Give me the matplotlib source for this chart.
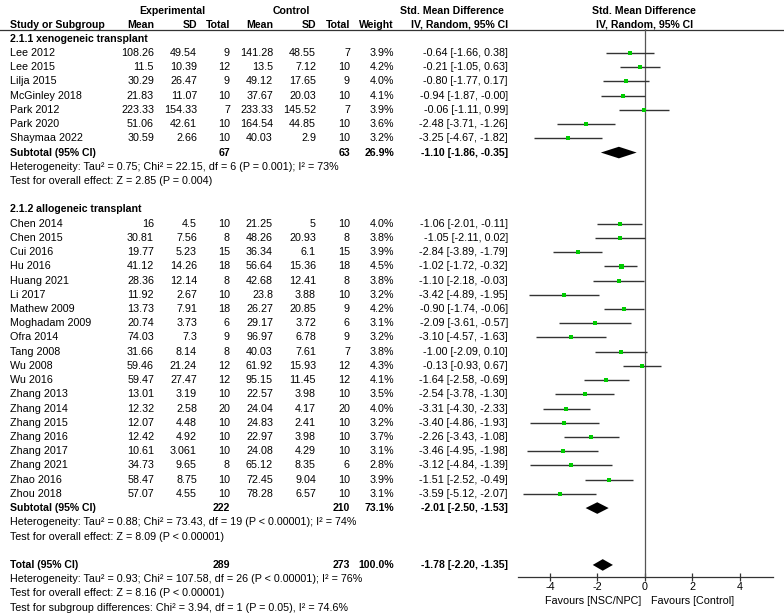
import matplotlib
matplotlib.use("Agg")
import matplotlib.pyplot as plt
from matplotlib.patches import Polygon

plt.rcParams['font.family'] = ['Liberation Sans', 'DejaVu Sans']

# ---------------- data ----------------
g1_name = "2.1.1 xenogeneic transplant"
g1_studies = ["Lee 2012", "Lee 2015", "Lilja 2015", "McGinley 2018", "Park 2012", "Park 2020", "Shaymaa 2022"]
g1_exp_mean = [108.26, 11.5, 30.29, 21.83, 223.33, 51.06, 30.59]
g1_exp_sd = [49.54, 10.39, 26.47, 11.07, 154.33, 42.61, 2.66]
g1_exp_n = [9, 12, 9, 10, 7, 10, 10]
g1_ctl_mean = [141.28, 13.5, 49.12, 37.67, 233.33, 164.54, 40.03]
g1_ctl_sd = [48.55, 7.12, 17.65, 20.03, 145.52, 44.85, 2.9]
g1_ctl_n = [7, 10, 9, 10, 7, 10, 10]
g1_weight = [3.9, 4.2, 4.0, 4.1, 3.9, 3.6, 3.2]
g1_smd = [-0.64, -0.21, -0.80, -0.94, -0.06, -2.48, -3.25]
g1_lo = [-1.66, -1.05, -1.77, -1.87, -1.11, -3.71, -4.67]
g1_hi = [0.38, 0.63, 0.17, -0.00, 0.99, -1.26, -1.82]
g1_sub = dict(n_exp=67, n_ctl=63, weight=26.9, smd=-1.10, lo=-1.86, hi=-0.35)
g1_het = "Heterogeneity: Tau² = 0.75; Chi² = 22.15, df = 6 (P = 0.001); I² = 73%"
g1_test = "Test for overall effect: Z = 2.85 (P = 0.004)"

g2_name = "2.1.2 allogeneic transplant"
g2_studies = ["Chen 2014", "Chen 2015", "Cui 2016", "Hu 2016", "Huang 2021", "Li 2017", "Mathew 2009",
              "Moghadam 2009", "Ofra 2014", "Tang 2008", "Wu 2008", "Wu 2016", "Zhang 2013", "Zhang 2014",
              "Zhang 2015", "Zhang 2016", "Zhang 2017", "Zhang 2021", "Zhao 2016", "Zhou 2018"]
g2_exp_mean = [16, 30.81, 19.77, 41.12, 28.36, 11.92, 13.73, 20.74, 74.03, 31.66, 59.46, 59.47, 13.01, 12.32,
               12.07, 12.42, 10.61, 34.73, 58.47, 57.07]
g2_exp_sd = [4.5, 7.56, 5.23, 14.26, 12.14, 2.67, 7.91, 3.73, 7.3, 8.14, 21.24, 27.47, 3.19, 2.58,
             4.48, 4.92, 3.061, 9.65, 8.75, 4.55]
g2_exp_n = [10, 8, 15, 18, 8, 10, 18, 6, 9, 8, 12, 12, 10, 20, 10, 10, 10, 8, 10, 10]
g2_ctl_mean = [21.25, 48.26, 36.34, 56.64, 42.68, 23.8, 26.27, 29.17, 96.97, 40.03, 61.92, 95.15, 22.57, 24.04,
               24.83, 22.97, 24.08, 65.12, 72.45, 78.28]
g2_ctl_sd = [5, 20.93, 6.1, 15.36, 12.41, 3.88, 20.85, 3.72, 6.78, 7.61, 15.93, 11.45, 3.98, 4.17,
             2.41, 3.98, 4.29, 8.35, 9.04, 6.57]
g2_ctl_n = [10, 8, 15, 18, 8, 10, 9, 6, 9, 7, 12, 12, 10, 20, 10, 10, 10, 6, 10, 10]
g2_weight = [4.0, 3.8, 3.9, 4.5, 3.8, 3.2, 4.2, 3.1, 3.2, 3.8, 4.3, 4.1, 3.5, 4.0, 3.2, 3.7, 3.1, 2.8, 3.9, 3.1]
g2_smd = [-1.06, -1.05, -2.84, -1.02, -1.10, -3.42, -0.90, -2.09, -3.10, -1.00, -0.13, -1.64, -2.54, -3.31,
          -3.40, -2.26, -3.46, -3.12, -1.51, -3.59]
g2_lo = [-2.01, -2.11, -3.89, -1.72, -2.18, -4.89, -1.74, -3.61, -4.57, -2.09, -0.93, -2.58, -3.78, -4.30,
         -4.86, -3.43, -4.95, -4.84, -2.52, -5.12]
g2_hi = [-0.11, 0.02, -1.79, -0.32, -0.03, -1.95, -0.06, -0.57, -1.63, 0.10, 0.67, -0.69, -1.30, -2.33,
         -1.93, -1.08, -1.98, -1.39, -0.49, -2.07]
g2_sub = dict(n_exp=222, n_ctl=210, weight=73.1, smd=-2.01, lo=-2.50, hi=-1.53)
g2_het = "Heterogeneity: Tau² = 0.88; Chi² = 73.43, df = 19 (P < 0.00001); I² = 74%"
g2_test = "Test for overall effect: Z = 8.09 (P < 0.00001)"

total = dict(n_exp=289, n_ctl=273, weight=100.0, smd=-1.78, lo=-2.20, hi=-1.35)
tot_het = "Heterogeneity: Tau² = 0.93; Chi² = 107.58, df = 26 (P < 0.00001); I² = 76%"
tot_test = "Test for overall effect: Z = 8.16 (P < 0.00001)"
tot_sub = "Test for subgroup differences: Chi² = 3.94, df = 1 (P = 0.05), I² = 74.6%"

x_ticks = [-4, -2, 0, 2, 4]
fav_left = "Favours [NSC/NPC]"
fav_right = "Favours [Control]"

# ---------------- layout ----------------
W, H = 784, 614
FS = 7.75
FSB = 7.6
Y0, DY = 38.8, 14.22          # pixel y of first row, row spacing
def ry(k):
    return Y0 + DY * k

fig = plt.figure(figsize=(W / 100, H / 100), dpi=100)
ax = fig.add_axes([0, 0, 1, 1])
ax.set_xlim(0, W)
ax.set_ylim(H, 0)
ax.axis('off')

# forest axes
PX0, PX1 = 517.7, 773.0        # pixel extent of axis line
XMIN, XMAX = -5.36, 5.39
PY_TOP, PY_AX = 29.0, 576.7
fx = fig.add_axes([PX0 / W, 1 - PY_AX / H, (PX1 - PX0) / W, (PY_AX - PY_TOP) / H])
fx.set_xlim(XMIN, XMAX)
fx.set_ylim(PY_AX, PY_TOP)
fx.patch.set_alpha(0)
for s in ['top', 'right', 'left']:
    fx.spines[s].set_visible(False)
fx.spines['bottom'].set_color('#333333')
fx.spines['bottom'].set_linewidth(0.9)
fx.set_yticks([])
fx.set_xticks(x_ticks)
fx.set_xticklabels([str(t) for t in x_ticks], fontsize=FS)
fx.tick_params(axis='x', direction='inout', length=6, width=0.9, color='#333333', pad=0.8)
fx.axvline(0, color='#555555', lw=0.9)
fx.text(-0.15, 600.5, fav_left, ha='right', va='center', fontsize=FS, clip_on=False)
fx.text(0.25, 600.5, fav_right, ha='left', va='center', fontsize=FS, clip_on=False)

# columns (right-aligned x positions)
C_STUDY = 10
C_EM, C_ES, C_EN = 154, 197, 230
C_CM, C_CS, C_CN = 273, 316, 350
C_W, C_CI = 394, 508

def t(x, y, s, ha='right', bold=False):
    ax.text(x, y, s, ha=ha, va='center', fontsize=FSB if bold else FS,
            fontweight='bold' if bold else 'normal', color='black')

# header
t(172, 10.5, "Experimental", ha='center', bold=True)
t(291, 10.5, "Control", ha='center', bold=True)
t(452, 10.5, "Std. Mean Difference", ha='center', bold=True)
t(644, 10.5, "Std. Mean Difference", ha='center', bold=True)
yh = 24.5
t(C_STUDY, yh, "Study or Subgroup", ha='left', bold=True)
for x, s in [(C_EM, "Mean"), (C_ES, "SD"), (C_EN, "Total"), (C_CM, "Mean"), (C_CS, "SD"),
             (C_CN, "Total"), (C_W, "Weight"), (C_CI, "IV, Random, 95% CI")]:
    t(x, yh, s, bold=True)
t(645, yh, "IV, Random, 95% CI", ha='center', bold=True)
ax.plot([0, W], [29.5, 29.5], color='#333333', lw=0.9)

def ci_str(e, lo, hi):
    return f"{e:.2f} [{lo:.2f}, {hi:.2f}]"

def draw_group(k0, name, studies, em, es, en, cm, cs, cn, wt, smd, lo, hi, sub, het, test):
    t(C_STUDY, ry(k0), name, ha='left', bold=True)
    for i in range(len(studies)):
        y = ry(k0 + 1 + i)
        t(C_STUDY, y, studies[i], ha='left')
        t(C_EM, y, f"{em[i]:g}"); t(C_ES, y, f"{es[i]:g}"); t(C_EN, y, f"{en[i]}")
        t(C_CM, y, f"{cm[i]:g}"); t(C_CS, y, f"{cs[i]:g}"); t(C_CN, y, f"{cn[i]}")
        t(C_W, y, f"{wt[i]:.1f}%")
        t(C_CI, y, ci_str(smd[i], lo[i], hi[i]))
        fx.plot([lo[i], hi[i]], [y, y], color='#333333', lw=1.0, solid_capstyle='butt')
        fx.plot([smd[i]], [y], marker='s', ms=wt[i] * 0.8, color='#00cc00', mec='#00cc00', mew=0,
                ls='none')
    ks = k0 + 1 + len(studies)
    draw_summary(ks, "Subtotal (95% CI)", sub)
    t(C_STUDY, ry(ks + 1), het, ha='left')
    t(C_STUDY, ry(ks + 2), test, ha='left')
    return ks + 2

def draw_summary(k, label, d):
    y = ry(k)
    t(C_STUDY, y, label, ha='left', bold=True)
    t(C_EN, y, f"{d['n_exp']}", bold=True)
    t(C_CN, y, f"{d['n_ctl']}", bold=True)
    t(C_W, y, f"{d['weight']:.1f}%", bold=True)
    t(C_CI, y, ci_str(d['smd'], d['lo'], d['hi']), bold=True)
    h = 5.8
    fx.add_patch(Polygon([(d['lo'], y), (d['smd'], y - h), (d['hi'], y), (d['smd'], y + h)],
                         closed=True, color='black', lw=0))

k = draw_group(0, g1_name, g1_studies, g1_exp_mean, g1_exp_sd, g1_exp_n, g1_ctl_mean, g1_ctl_sd,
               g1_ctl_n, g1_weight, g1_smd, g1_lo, g1_hi, g1_sub, g1_het, g1_test)
k = draw_group(k + 2, g2_name, g2_studies, g2_exp_mean, g2_exp_sd, g2_exp_n, g2_ctl_mean, g2_ctl_sd,
               g2_ctl_n, g2_weight, g2_smd, g2_lo, g2_hi, g2_sub, g2_het, g2_test)
kt = k + 2
draw_summary(kt, "Total (95% CI)", total)
t(C_STUDY, ry(kt + 1), tot_het, ha='left')
t(C_STUDY, ry(kt + 2), tot_test, ha='left')
t(C_STUDY, ry(kt + 3), tot_sub, ha='left')

fig.savefig("out.png", dpi=100)
